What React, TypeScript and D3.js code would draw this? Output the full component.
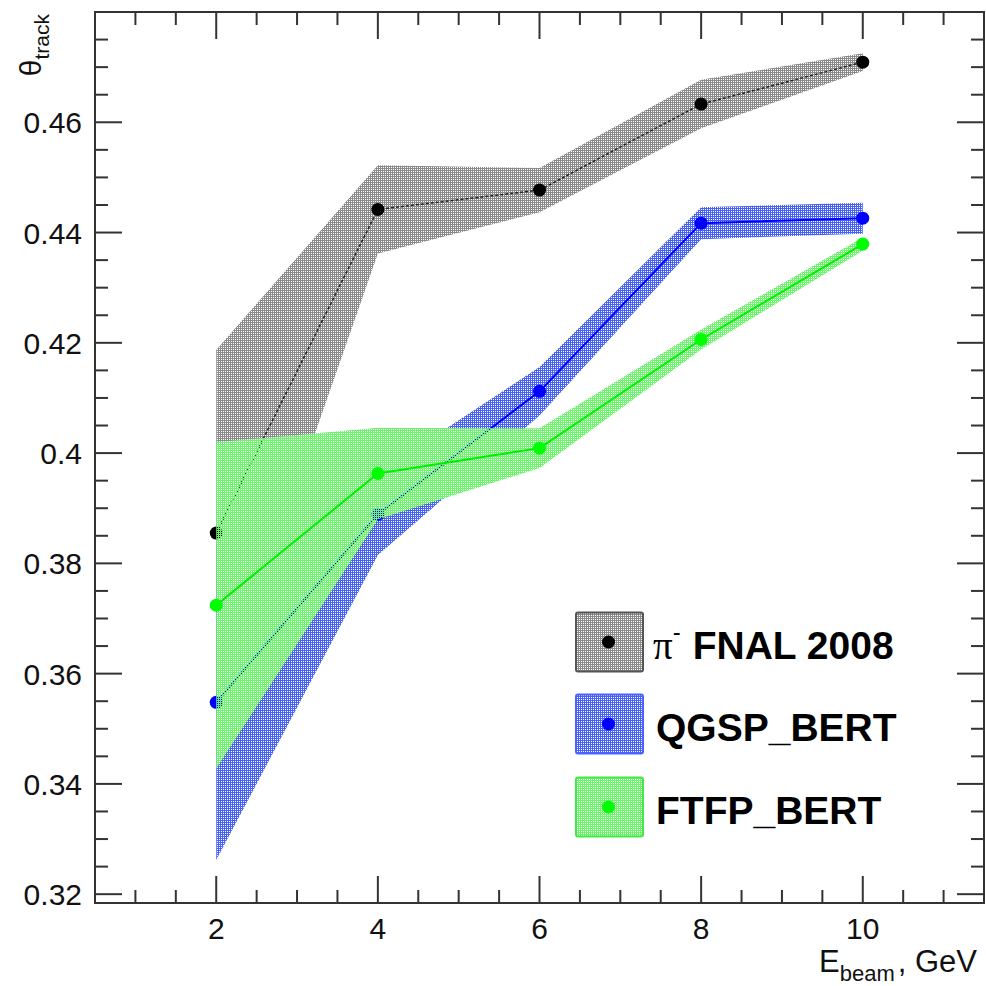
import React from "react";
import * as d3 from "d3";

// Beam energies (GeV)
const energies = [2, 4, 6, 8, 10];

// π- FNAL 2008 data: mean θ_track and band half-width
const dataValues = [0.3855, 0.4442, 0.4477, 0.4633, 0.4709];
const dataErrors = [0.0332, 0.0080, 0.0040, 0.0044, 0.0016];

// QGSP_BERT simulation
const qgspValues = [0.3548, 0.3889, 0.4112, 0.4417, 0.4426];
const qgspErrors = [0.0286, 0.0074, 0.0044, 0.0029, 0.0028];

// FTFP_BERT simulation
const ftfpValues = [0.3724, 0.3963, 0.4009, 0.4206, 0.4379];
const ftfpErrors = [0.0296, 0.0083, 0.0036, 0.0018, 0.0012];

const xTicks = [2, 4, 6, 8, 10];
const yTicks = [0.32, 0.34, 0.36, 0.38, 0.4, 0.42, 0.44, 0.46];
const yTickLabels = ["0.32", "0.34", "0.36", "0.38", "0.4", "0.42", "0.44", "0.46"];

const W = 986;
const H = 986;
const left = 95;
const right = 984;
const top = 12;
const bottom = 903;

const x = d3.scaleLinear().domain([0.5, 11.5]).range([left, right]);
const y = d3.scaleLinear().domain([0.3184, 0.48]).range([bottom, top]);

type Series = {
  id: string;
  values: number[];
  errors: number[];
  fill: string;
  border: string;
  line: string;
  lineWidth: number;
  dash?: string;
  marker: string;
};

const series: Series[] = [
  {
    id: "data",
    values: dataValues,
    errors: dataErrors,
    fill: "#8a8a8a",
    border: "#555555",
    line: "#222222",
    lineWidth: 1.5,
    dash: "3 2",
    marker: "#000000",
  },
  {
    id: "qgsp",
    values: qgspValues,
    errors: qgspErrors,
    fill: "#4660f2",
    border: "#4a62ff",
    line: "#0000ff",
    lineWidth: 2,
    marker: "#0000ff",
  },
  {
    id: "ftfp",
    values: ftfpValues,
    errors: ftfpErrors,
    fill: "#6cf46c",
    border: "#44e844",
    line: "#00ee00",
    lineWidth: 2,
    marker: "#00ff00",
  },
];

const legendLabels = ["FNAL 2008", "QGSP_BERT", "FTFP_BERT"];

function Pattern({ id, color }: { id: string; color: string }) {
  return (
    <pattern id={id} width={2} height={2} patternUnits="userSpaceOnUse">
      <rect x={0} y={0} width={2} height={1} fill={color} shapeRendering="crispEdges" />
      <rect x={0} y={1} width={1} height={1} fill={color} shapeRendering="crispEdges" />
    </pattern>
  );
}

export default function App() {
  const font = "'Liberation Sans', Arial, Helvetica, sans-serif";
  const axisColor = "#333";

  const minorX = d3.range(0.5, 11.5 + 1e-9, 0.5);
  const minorY = d3.range(0.32, 0.48 + 1e-9, 0.005);

  const band = (s: Series) =>
    d3
      .area<number>()
      .x((_, i) => x(energies[i]))
      .y0((v, i) => y(v - s.errors[i]))
      .y1((v, i) => y(v + s.errors[i]))(s.values) || "";

  const line = (s: Series) =>
    d3
      .line<number>()
      .x((_, i) => x(energies[i]))
      .y((v) => y(v))(s.values) || "";

  const legendX = 576;
  const legendW = 67;
  const legendH = 59;
  const legendCenters = [642, 724, 807];

  return (
    <svg
      width={W}
      height={H}
      style={{ position: "absolute", left: 0, top: 0, background: "#fff" }}
      fontFamily={font}
    >
      <defs>
        {series.map((s) => (
          <Pattern key={s.id} id={`pat-${s.id}`} color={s.fill} />
        ))}
        <clipPath id="plot-clip">
          <rect x={left} y={top} width={right - left} height={bottom - top} />
        </clipPath>
      </defs>
      <rect x={0} y={0} width={W} height={H} fill="#fff" />

      <g clipPath="url(#plot-clip)">
        {series.map((s) => (
          <g key={s.id}>
            <path d={band(s)} fill={`url(#pat-${s.id})`} />
            <path
              d={line(s)}
              fill="none"
              stroke={s.line}
              strokeWidth={s.lineWidth}
              strokeDasharray={s.dash}
            />
            {s.values.map((v, i) => (
              <circle key={i} cx={x(energies[i])} cy={y(v)} r={6.5} fill={s.marker} />
            ))}
          </g>
        ))}
      </g>

      {/* frame */}
      <rect
        x={left}
        y={top}
        width={right - left}
        height={bottom - top}
        fill="none"
        stroke={axisColor}
        strokeWidth={2}
      />

      {/* x ticks, bottom and top */}
      {minorX.map((v, i) => {
        const major = xTicks.some((t) => Math.abs(t - v) < 1e-9);
        const len = major ? 27 : 13;
        const px = x(v);
        if (px <= left + 1 || px >= right - 1) return null;
        return (
          <g key={`xt${i}`} stroke={axisColor} strokeWidth={2}>
            <line x1={px} x2={px} y1={bottom} y2={bottom - len} />
            <line x1={px} x2={px} y1={top} y2={top + len} />
          </g>
        );
      })}
      {xTicks.map((v) => (
        <text key={`xl${v}`} x={x(v)} y={939} fontSize={30} textAnchor="middle" fill="#111">
          {v}
        </text>
      ))}

      {/* y ticks, left and right */}
      {minorY.map((v, i) => {
        const major = yTicks.some((t) => Math.abs(t - v) < 1e-9);
        const len = major ? 27 : 13;
        const py = y(v);
        if (py <= top + 1 || py >= bottom - 1) return null;
        return (
          <g key={`yt${i}`} stroke={axisColor} strokeWidth={2}>
            <line x1={left} x2={left + len} y1={py} y2={py} />
            <line x1={right} x2={right - len} y1={py} y2={py} />
          </g>
        );
      })}
      {yTicks.map((v, i) => (
        <text
          key={`yl${v}`}
          x={82}
          y={y(v) + 11}
          fontSize={30}
          textAnchor="end"
          fill="#111"
        >
          {yTickLabels[i]}
        </text>
      ))}

      {/* axis titles */}
      <text
        transform="translate(41,14) rotate(-90)"
        textAnchor="end"
        fontSize={30}
        fill="#111"
      >
        <tspan>θ</tspan>
        <tspan fontSize={21} dy={8}>track</tspan>
      </text>
      <text x={977} y={972} textAnchor="end" fontSize={31} fill="#111">
        <tspan>E</tspan>
        <tspan fontSize={22} dy={9}>beam</tspan>
        <tspan dx={3} dy={-9}>, GeV</tspan>
      </text>

      {/* legend */}
      {series.map((s, i) => {
        const cy = legendCenters[i];
        return (
          <g key={`lg${s.id}`}>
            <rect
              x={legendX}
              y={cy - legendH / 2}
              width={legendW}
              height={legendH}
              fill={`url(#pat-${s.id})`}
              stroke={s.border}
              strokeWidth={2}
              rx={2}
            />
            <circle cx={legendX + legendW / 2 - 1} cy={cy} r={6.5} fill={s.marker} />
            {i === 0 ? (
              <text x={653} y={cy + 17} fontSize={39} fill="#000">
                <tspan fontFamily="'Liberation Serif', 'Times New Roman', serif">π</tspan>
                <tspan fontSize={24} dy={-19}>-</tspan>
                <tspan dx={12} dy={19} fontWeight="bold">{legendLabels[i]}</tspan>
              </text>
            ) : (
              <text x={656} y={cy + 17} fontSize={39} fontWeight="bold" fill="#000">
                {legendLabels[i]}
              </text>
            )}
          </g>
        );
      })}
    </svg>
  );
}
